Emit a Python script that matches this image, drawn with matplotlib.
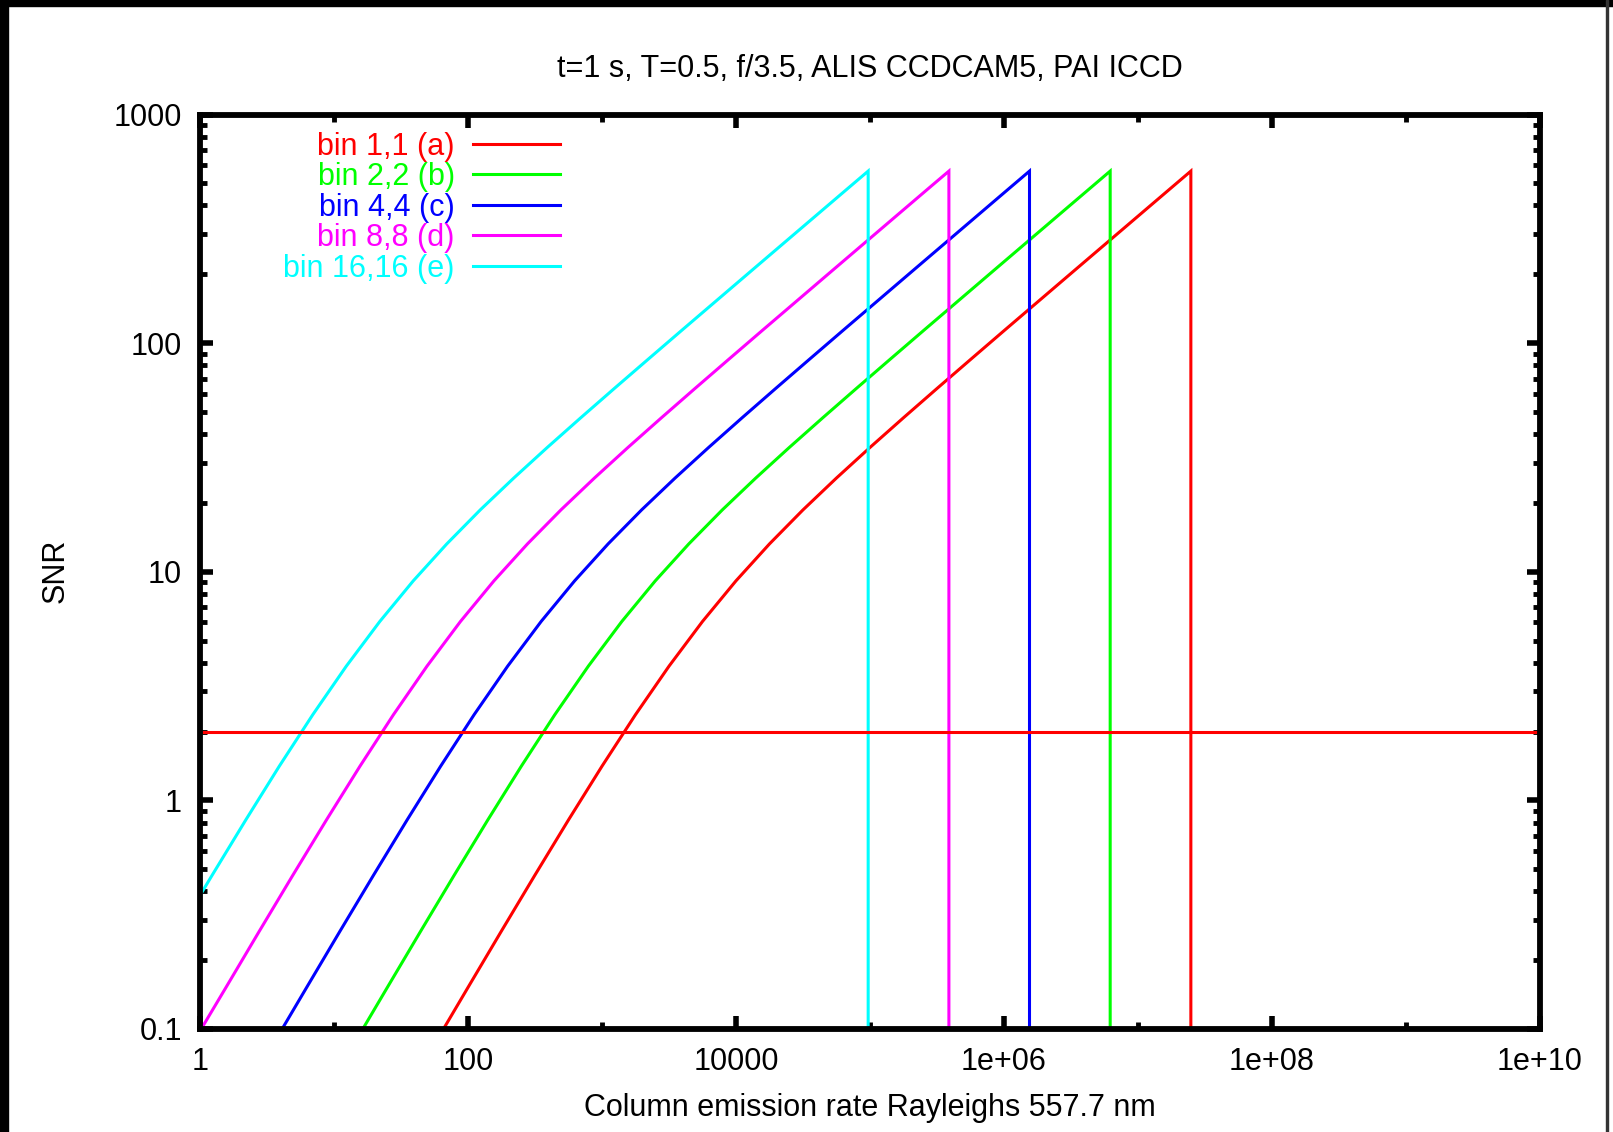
import matplotlib
matplotlib.use("Agg")
import matplotlib.pyplot as plt
from matplotlib.patches import Rectangle
from matplotlib.ticker import FixedLocator, NullFormatter

plt.rcParams['font.family'] = ['Liberation Sans', 'DejaVu Sans']

# === SNR vs column emission rate, one curve per binning ===
# rate in Rayleighs; the last point drops to the floor at saturation
rate_a = [65.6, 100, 177.8, 316.2, 562.3, 1000, 1778, 3162, 5623, 1e4, 17783, 31623,
          56234, 1e5, 177828, 316228, 562341, 1e6, 1.778e6, 3.162e6, 5.623e6, 1e7,
          1.778e7, 2.48e7, 2.48e7]
snr_a = [0.100, 0.152, 0.2685, 0.4717, 0.8216, 1.411, 2.371, 3.863, 6.061, 9.128, 13.24,
         18.65, 25.71, 34.97, 47.17, 63.32, 84.76, 113.3, 151.2, 201.8, 269.2, 359.1,
         478.9, 565.5, 0.01]

rate_b = [16.4, 25, 44.45, 79.06, 140.6, 250, 444.6, 790.6, 1406, 2500, 4446, 7906,
          14059, 25000, 44457, 79057, 140585, 250000, 444570, 790569, 1.406e6, 2.5e6,
          4.446e6, 6.2e6, 6.2e6]
snr_b = [0.100, 0.152, 0.2685, 0.4717, 0.8216, 1.411, 2.371, 3.863, 6.061, 9.128, 13.24,
         18.65, 25.71, 34.97, 47.17, 63.32, 84.76, 113.3, 151.2, 201.8, 269.2, 359.1,
         478.9, 565.5, 0.01]

rate_c = [4.1, 6.25, 11.11, 19.76, 35.14, 62.5, 111.1, 197.6, 351.4, 625, 1111, 1976,
          3515, 6250, 11114, 19764, 35146, 62500, 111142, 197642, 351462, 625000,
          1.111e6, 1.55e6, 1.55e6]
snr_c = [0.100, 0.152, 0.2685, 0.4717, 0.8216, 1.411, 2.371, 3.863, 6.061, 9.128, 13.24,
         18.65, 25.71, 34.97, 47.17, 63.32, 84.76, 113.3, 151.2, 201.8, 269.2, 359.1,
         478.9, 565.5, 0.01]

rate_d = [1, 1.5625, 2.778, 4.941, 8.786, 15.625, 27.78, 49.41, 87.86, 156.25, 277.9,
          494.1, 878.7, 1562.5, 2779, 4941, 8787, 15625, 27786, 49411, 87866, 156250,
          277855, 3.88e5, 3.88e5]
snr_d = [0.098, 0.152, 0.2685, 0.4717, 0.8216, 1.411, 2.371, 3.863, 6.061, 9.128, 13.24,
         18.65, 25.71, 34.97, 47.17, 63.32, 84.76, 113.3, 151.2, 201.8, 269.2, 359.1,
         478.9, 565.5, 0.01]

rate_e = [1, 1.235, 2.197, 3.906, 6.946, 12.35, 21.97, 39.06, 69.47, 123.5, 219.7, 390.6,
          694.6, 1235, 2197, 3906, 6946, 12353, 21966, 39063, 69465, 9.69e4, 9.69e4]
snr_e = [0.384, 0.4717, 0.8216, 1.411, 2.371, 3.863, 6.061, 9.128, 13.24, 18.65, 25.71,
         34.97, 47.17, 63.32, 84.76, 113.3, 151.2, 201.8, 269.2, 359.1, 478.9, 565.5, 0.01]

labels = ['bin 1,1 (a)', 'bin 2,2 (b)', 'bin 4,4 (c)', 'bin 8,8 (d)', 'bin 16,16 (e)']
colors = ['#ff0000', '#00ff00', '#0000ff', '#ff00ff', '#00ffff']

snr_limit = 2
limit_rate = [1, 1e10]

xticks = [1, 1e2, 1e4, 1e6, 1e8, 1e10]
xticklabels = ['1', '100', '10000', '1e+06', '1e+08', '1e+10']
xminor = [1e1, 1e3, 1e5, 1e7, 1e9]
yticks = [0.1, 1, 10, 100, 1000]
yticklabels = ['0.1', '1', '10', '100', '1000']

FS = 22
W, H = 1613, 1132
fig = plt.figure(figsize=(W / 100, H / 100), dpi=100)
fig.patch.set_facecolor('white')

# axes box in pixels: left 200, right 1540, top 114.5, bottom 1029
ax = fig.add_axes([200 / W, 1 - 1029 / H, 1340 / W, 914.5 / H])
ax.set_xscale('log')
ax.set_yscale('log')
ax.set_xlim(1, 1e10)
ax.set_ylim(0.1, 1000)

series = [(rate_a, snr_a), (rate_b, snr_b), (rate_c, snr_c), (rate_d, snr_d), (rate_e, snr_e)]
for (xs, ys), c in zip(series, colors):
    ax.plot(xs, ys, color=c, lw=2.2, solid_joinstyle='miter')

ax.plot(limit_rate, [snr_limit, snr_limit], color='#ff0000', lw=2.2)

# key, gnuplot style: right-aligned text with a line sample after it
key_y = [0.9678, 0.9344, 0.9011, 0.8678, 0.8344]
text_drop = 0.0028  # text box centre sits a little high in matplotlib
for lab, c, yk in zip(labels, colors, key_y):
    ax.text(0.1902, yk - text_drop, lab, color=c, fontsize=FS, ha='right', va='center',
            transform=ax.transAxes)
    ax.plot([0.204, 0.2686], [yk, yk], color=c, lw=2.2, transform=ax.transAxes,
            clip_on=False)

ax.xaxis.set_major_locator(FixedLocator(xticks))
ax.set_xticklabels(xticklabels)
ax.xaxis.set_minor_locator(FixedLocator(xminor))
ax.xaxis.set_minor_formatter(NullFormatter())
ax.yaxis.set_major_locator(FixedLocator(yticks))
ax.set_yticklabels(yticklabels)
ax.yaxis.set_minor_locator(FixedLocator(
    [m * 10.0 ** e for e in range(-1, 3) for m in range(2, 10)]))
ax.yaxis.set_minor_formatter(NullFormatter())

ax.tick_params(which='both', direction='in', top=True, right=True, labelsize=FS,
               colors='black')
ax.tick_params(which='major', length=9.5, width=4)
ax.tick_params(which='minor', length=4.7, width=3.5)
ax.tick_params(axis='x', which='major', pad=13)
ax.tick_params(axis='y', which='major', pad=13)
for sp in ax.spines.values():
    sp.set_linewidth(4.2)

fig.text((200 + 1540) / 2 / W, 1 - 69 / H, 't=1 s, T=0.5, f/3.5, ALIS CCDCAM5, PAI ICCD',
         fontsize=FS, ha='center', va='center')
fig.text((200 + 1540) / 2 / W, 1 - 1108 / H, 'Column emission rate Rayleighs 557.7 nm',
         fontsize=FS, ha='center', va='center')
fig.text(56 / W, 1 - 571 / H, 'SNR', fontsize=FS, ha='center', va='center', rotation=90)

# window frame around the plot
fig.patches.append(Rectangle((0, 1 - 6 / H), 1, 6 / H, transform=fig.transFigure,
                             color='black', zorder=10))
fig.patches.append(Rectangle((0, 0), 8 / W, 1, transform=fig.transFigure,
                             color='black', zorder=10))
fig.patches.append(Rectangle((1606 / W, 0), 2 / W, 1, transform=fig.transFigure,
                             color='#333333', zorder=10))

fig.savefig('out.png', dpi=100)
